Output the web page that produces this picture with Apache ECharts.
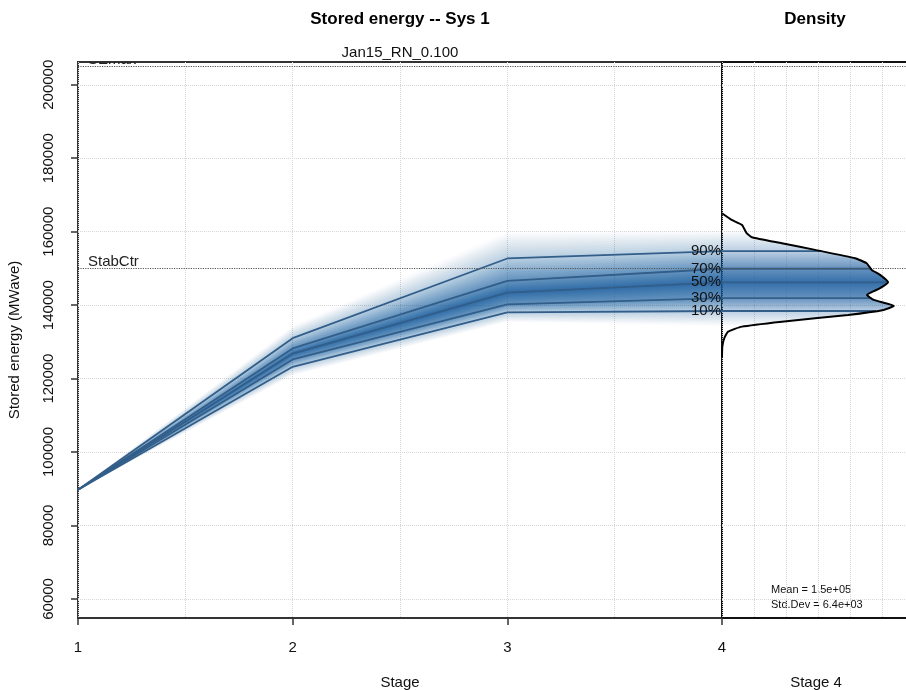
<!DOCTYPE html>
<html>
<head>
<meta charset="UTF-8">
<title>Stored energy -- Sys 1</title>
<script src="https://cdn.jsdelivr.net/npm/echarts@6/dist/echarts.min.js"></script>
<style>
    html, body { margin: 0; padding: 0; background: #fff; }
    #main { width: 906px; height: 690px; }
</style>
</head>
<body>
<div id="main"></div>
<script>
// percentiles of stored energy per stage
var stages = [1, 2, 3, 4];
var p10 = [89700, 123200, 138000, 138400];
var p30 = [89700, 125200, 140200, 141900];
var p50 = [89700, 126800, 143400, 146200];
var p70 = [89700, 128200, 146600, 149900];
var p90 = [89700, 131000, 152700, 154700];
var pctNames = ['10%', '30%', '50%', '70%', '90%'];

// density of stage 4 (value in 1e-5 per MWave)
var densEnergy = [165000, 163200, 161850, 159600, 158500, 156860, 155040, 152780, 151410, 149590,
    148230, 146230, 144600, 142780, 141420, 139780, 138690, 137330, 135500, 134140, 132770, 130980, 128690, 125900];
var densValue = [0, 0.30, 0.62, 0.77, 0.93, 1.87, 2.91, 4.16, 4.52, 4.68,
    4.94, 5.19, 4.94, 4.53, 4.74, 5.37, 5.05, 3.94, 1.87, 0.62, 0.19, 0.07, 0.01, 0];

var yTicks = [60000, 80000, 100000, 120000, 140000, 160000, 180000, 200000];
var refNames = ['SEmax', 'StabCtr'];
var refValues = [205000, 150000];
var statLines = ['Mean = 1.5e+05', 'Std.Dev = 6.4e+03'];

var FONT = 'Liberation Sans, Arial, sans-serif';
var LINE = '#325e89';
var Y_MIN = 54800, Y_MAX = 206200;

// fan shading profile, d = distance from median in percentile steps
var FAN_OUT = 3.2, FAN_N = 32;
function fanAlpha(d) {
    var pts = [[0, 0.9], [1, 0.68], [2, 0.3], [FAN_OUT, 0]];
    if (d >= FAN_OUT) return 0;
    for (var i = 0; i < pts.length - 1; i++) {
        if (d <= pts[i + 1][0]) {
            var t = (d - pts[i][0]) / (pts[i + 1][0] - pts[i][0]);
            return pts[i][1] + (pts[i + 1][1] - pts[i][1]) * t;
        }
    }
    return 0;
}
function bandY(ys, q) {
    if (q <= 0) return ys[0] + q * (ys[1] - ys[0]);
    if (q >= 4) return ys[4] + (q - 4) * (ys[4] - ys[3]);
    var i = Math.floor(q), t = q - i;
    return ys[i] + (ys[i + 1] - ys[i]) * t;
}
// inverse of bandY (ys decrease with q)
function bandQ(ys, y) {
    if (y >= ys[0]) return (y - ys[0]) / (ys[1] - ys[0]);
    if (y <= ys[4]) return 4 + (y - ys[4]) / (ys[4] - ys[3]);
    for (var i = 0; i < 4; i++) {
        if (y <= ys[i] && y >= ys[i + 1]) return i + (y - ys[i]) / (ys[i + 1] - ys[i]);
    }
    return 2;
}
function stageYs(api, x, k) {
    return [p10[k], p30[k], p50[k], p70[k], p90[k]].map(function (v) {
        return api.coord([x, v])[1];
    });
}
function fanColor(a) {
    return 'rgba(30,95,160,' + Math.max(0, Math.min(1, a)).toFixed(3) + ')';
}

function renderFan(params, api) {
    var cols = stages.map(function (s, k) {
        return { x: api.coord([s, p50[k]])[0], ys: stageYs(api, s, k) };
    });
    var children = [];
    var prev = 0;
    for (var j = FAN_N; j >= 1; j--) {
        var d = FAN_OUT * j / FAN_N;
        var target = fanAlpha(d - FAN_OUT / FAN_N / 2);
        var a = 1 - (1 - target) / (1 - prev);
        prev = target;
        var pts = [];
        for (var k = 0; k < cols.length; k++) pts.push([cols[k].x, bandY(cols[k].ys, 2 - d)]);
        for (k = cols.length - 1; k >= 0; k--) pts.push([cols[k].x, bandY(cols[k].ys, 2 + d)]);
        children.push({ type: 'polygon', silent: true, shape: { points: pts }, style: { fill: fanColor(a) } });
    }
    return { type: 'group', children: children };
}

// x pixel of the density curve at pixel row y
function curveX(curve, y) {
    for (var i = 0; i < curve.length - 1; i++) {
        var a = curve[i], b = curve[i + 1];
        if (y >= a[1] && y <= b[1]) {
            var t = b[1] === a[1] ? 0 : (y - a[1]) / (b[1] - a[1]);
            return a[0] + (b[0] - a[0]) * t;
        }
    }
    return curve[0][0];
}

function renderDensityFill(params, api) {
    var last = stages.length - 1;
    var ys = stageYs(api, 0, last);
    var curve = densValue.map(function (v, i) { return api.coord([v, densEnergy[i]]); });
    var x0 = api.coord([0, p50[last]])[0];
    var children = [];
    var y0 = Math.floor(curve[0][1]), y1 = Math.ceil(curve[curve.length - 1][1]);
    for (var y = y0; y < y1; y++) {
        var a = fanAlpha(Math.abs(bandQ(ys, y + 0.5) - 2));
        if (a <= 0.002) continue;
        var xc = curveX(curve, y + 0.5);
        if (xc - x0 < 0.5) continue;
        children.push({ type: 'rect', silent: true, shape: { x: x0, y: y, width: xc - x0, height: 1 },
            style: { fill: fanColor(a) } });
    }
    ys.forEach(function (yl) {
        children.push({ type: 'line', silent: true,
            shape: { x1: x0, y1: yl, x2: curveX(curve, yl), y2: yl },
            style: { stroke: LINE, lineWidth: 1.8 } });
    });
    return { type: 'group', children: children };
}

function renderNotes(params, api) {
    var children = [];
    var last = stages.length - 1;
    var endVals = [p10[last], p30[last], p50[last], p70[last], p90[last]];
    endVals.forEach(function (v, i) {
        var pt = api.coord([stages[last], v]);
        children.push({ type: 'text', silent: true, x: pt[0] - 1, y: pt[1],
            style: { text: pctNames[i], align: 'right', verticalAlign: 'middle', font: '15px ' + FONT, fill: '#111' } });
    });
    refValues.forEach(function (v, i) {
        var pt = api.coord([stages[0], v]);
        children.push({ type: 'text', silent: true, x: pt[0] + 10, y: pt[1] + 1,
            style: { text: refNames[i], align: 'left', verticalAlign: 'bottom', font: '15px ' + FONT, fill: '#222' } });
    });
    return { type: 'group', children: children };
}

function refMarkLine() {
    return {
        silent: true, symbol: 'none', animation: false,
        label: { show: false },
        lineStyle: { color: '#555', type: 'dotted', width: 1.2 },
        data: refValues.map(function (v) { return { yAxis: v }; })
    };
}

var chart = echarts.init(document.getElementById('main'));

var gridLine = { show: true, lineStyle: { color: '#d6d6d6', type: 'dotted', width: 1 } };

var pctSeries = [p10, p30, p50, p70, p90].map(function (arr, i) {
    var s = {
        name: pctNames[i], type: 'line', xAxisIndex: 0, yAxisIndex: 0,
        symbol: 'none', z: 4, silent: true,
        lineStyle: { color: LINE, width: 1.8 },
        data: arr.map(function (v, k) { return [stages[k], v]; })
    };
    if (i === 4) s.markLine = refMarkLine();
    return s;
});

var option = {
    animation: false,
    textStyle: { fontFamily: FONT },
    grid: [
        { left: 78, right: 184, top: 62, bottom: 72, outerBoundsMode: 'none',
            show: true, borderColor: '#333', borderWidth: 2, backgroundColor: 'transparent' },
        { left: 722, right: -4, top: 62, bottom: 72, outerBoundsMode: 'none',
            show: true, borderColor: '#111', borderWidth: 2, backgroundColor: 'transparent' }
    ],
    xAxis: [
        { type: 'value', gridIndex: 0, position: 'bottom', min: 1, max: 4, interval: 0.5,
            axisLine: { show: false }, axisTick: { show: false }, axisLabel: { show: false }, splitLine: gridLine },
        { type: 'value', gridIndex: 0, position: 'bottom', min: 1, max: 4, interval: 1,
            axisLine: { show: false }, splitLine: { show: false },
            axisTick: { show: true, length: 7, lineStyle: { color: '#333', width: 1.5 } },
            axisLabel: { fontSize: 15, color: '#111', margin: 22 },
            name: 'Stage', nameLocation: 'middle', nameGap: 57,
            nameTextStyle: { fontSize: 15, color: '#111' } },
        { type: 'value', gridIndex: 1, position: 'bottom', min: 0, max: 5.875, interval: 1,
            axisLine: { show: false }, axisTick: { show: false }, axisLabel: { show: false }, splitLine: gridLine,
            name: 'Stage 4', nameLocation: 'middle', nameGap: 57,
            nameTextStyle: { fontSize: 15, color: '#111' } }
    ],
    yAxis: [
        { type: 'value', gridIndex: 0, min: Y_MIN, max: Y_MAX,
            axisLine: { show: false },
            axisTick: { show: true, length: 7, customValues: yTicks, lineStyle: { color: '#333', width: 1.5 } },
            axisLabel: { customValues: yTicks, rotate: 90, fontSize: 15, color: '#111', margin: 22,
                formatter: function (v) { return String(v); } },
            splitLine: gridLine,
            name: 'Stored energy (MWave)', nameLocation: 'middle', nameGap: 56,
            nameTextStyle: { fontSize: 15, color: '#111' } },
        { type: 'value', gridIndex: 1, min: Y_MIN, max: Y_MAX,
            axisLine: { show: false },
            axisTick: { show: false, customValues: yTicks },
            axisLabel: { show: false },
            splitLine: gridLine }
    ],
    graphic: [
        { type: 'text', x: 400, y: 19, silent: true,
            style: { text: 'Stored energy -- Sys 1', align: 'center', verticalAlign: 'middle', font: 'bold 17px ' + FONT, fill: '#000' } },
        { type: 'text', x: 815, y: 19, silent: true,
            style: { text: 'Density', align: 'center', verticalAlign: 'middle', font: 'bold 17px ' + FONT, fill: '#000' } },
        { type: 'text', x: 400, y: 53, silent: true,
            style: { text: 'Jan15_RN_0.100', align: 'center', verticalAlign: 'middle', font: '15px ' + FONT, fill: '#111' } },
        { type: 'text', x: 771, y: 590, silent: true,
            style: { text: statLines[0], align: 'left', verticalAlign: 'middle', font: '11px ' + FONT, fill: '#111' } },
        { type: 'text', x: 771, y: 605, silent: true,
            style: { text: statLines[1], align: 'left', verticalAlign: 'middle', font: '11px ' + FONT, fill: '#111' } }
    ],
    series: [
        { type: 'custom', xAxisIndex: 0, yAxisIndex: 0, z: 2, silent: true,
            renderItem: renderFan, data: [[stages[0], p50[0]]] },
        { type: 'custom', xAxisIndex: 2, yAxisIndex: 1, z: 2, silent: true,
            renderItem: renderDensityFill, data: [[1, p50[3]]] },
        { type: 'line', xAxisIndex: 2, yAxisIndex: 1, z: 5, silent: true,
            symbol: 'none', smooth: 0.15,
            lineStyle: { color: '#000', width: 2 },
            data: densValue.map(function (v, i) { return [v, densEnergy[i]]; }),
            markLine: refMarkLine() }
    ].concat(pctSeries).concat([
        { type: 'custom', xAxisIndex: 0, yAxisIndex: 0, z: 6, silent: true, clip: true,
            renderItem: renderNotes, data: [[stages[0], p50[0]]] }
    ])
};

chart.setOption(option);
</script>
</body>
</html>
